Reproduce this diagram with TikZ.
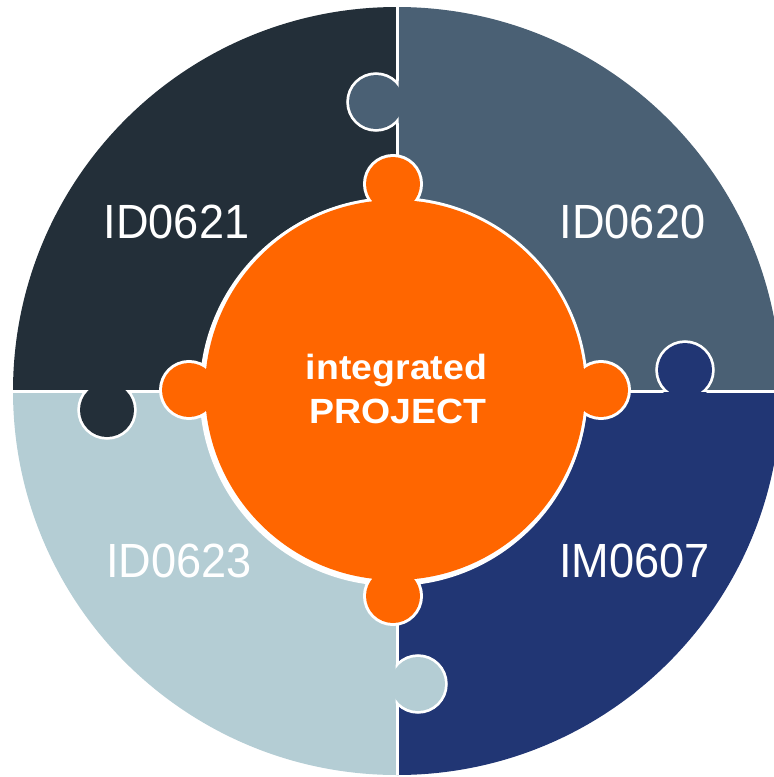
\documentclass[tikz,border=0pt]{standalone}
\usepackage{fontspec}
\setmainfont{Liberation Sans}
\usepackage{graphicx}
\definecolor{cTL}{HTML}{232F39}
\definecolor{cTR}{HTML}{4A6074}
\definecolor{cBL}{HTML}{B4CDD4}
\definecolor{cBR}{HTML}{213674}
\definecolor{cOR}{HTML}{FF6600}
\newcommand{\pzknob}[3]{%
  \draw[white,line width=5.5pt] (#1) circle (27pt);
  \fill[#2] (#1) circle (27pt);
  \begin{scope}\clip #3; \fill[#2] (#1) circle (31pt);\end{scope}}
\begin{document}
\begin{tikzpicture}[x=1pt,y=-1pt,
  idlabel/.style={text=white, anchor=base, inner sep=0pt, font=\fontsize{48pt}{48pt}\selectfont},
  midlabel/.style={text=white, anchor=base, inner sep=0pt, font=\fontsize{35pt}{35pt}\selectfont\bfseries},
  divline/.style={white, line width=3pt},
  ringline/.style={white, line width=6pt}]
\useasboundingbox (0,0) rectangle (774,777);
% quadrants
\begin{scope}
  \clip (397,391) circle (384pt);
  \fill[cTL] (0,0) rectangle (397,391);
  \fill[cTR] (397,0) rectangle (774,391);
  \fill[cBL] (0,391) rectangle (397,777);
  \fill[cBR] (397,391) rectangle (774,777);
  \draw[divline] (397,0) -- (397,777) (0,391) -- (774,391);
\end{scope}
% puzzle knobs
\pzknob{376,102}{cTR}{(398.5,0) rectangle (774,391)}
\pzknob{685,370}{cBR}{(397,392.5) rectangle (774,777)}
\pzknob{107,410}{cTL}{(0,0) rectangle (397,389.5)}
\pzknob{418,684}{cBL}{(0,391) rectangle (395.5,777)}
% central piece
\fill[white] (393.5,392) circle (194pt);
\draw[ringline] (395,390) circle (190pt) (393,184) circle (27pt) (393,596) circle (27pt)
  (189,390) circle (27pt) (601,390) circle (27pt);
\fill[cOR] (395,390) circle (190pt) (393,184) circle (27pt) (393,596) circle (27pt)
  (189,390) circle (27pt) (601,390) circle (27pt);
% labels
\node[idlabel] (l1) at (176.5,238) {\scalebox{0.94}[1]{ID0621}};
\node[idlabel] (l2) at (632.5,238) {\scalebox{0.94}[1]{ID0620}};
\node[idlabel] (l3) at (179,577) {\scalebox{0.94}[1]{ID0623}};
\node[idlabel] (l4) at (634.5,577) {\scalebox{0.94}[1]{IM0607}};
\node[midlabel] (m1) at (396.5,379) {\scalebox{1.07}[1]{integrated}};
\node[midlabel] (m2) at (397.5,423) {\scalebox{1.07}[1]{PROJECT}};
\end{tikzpicture}
\end{document}
